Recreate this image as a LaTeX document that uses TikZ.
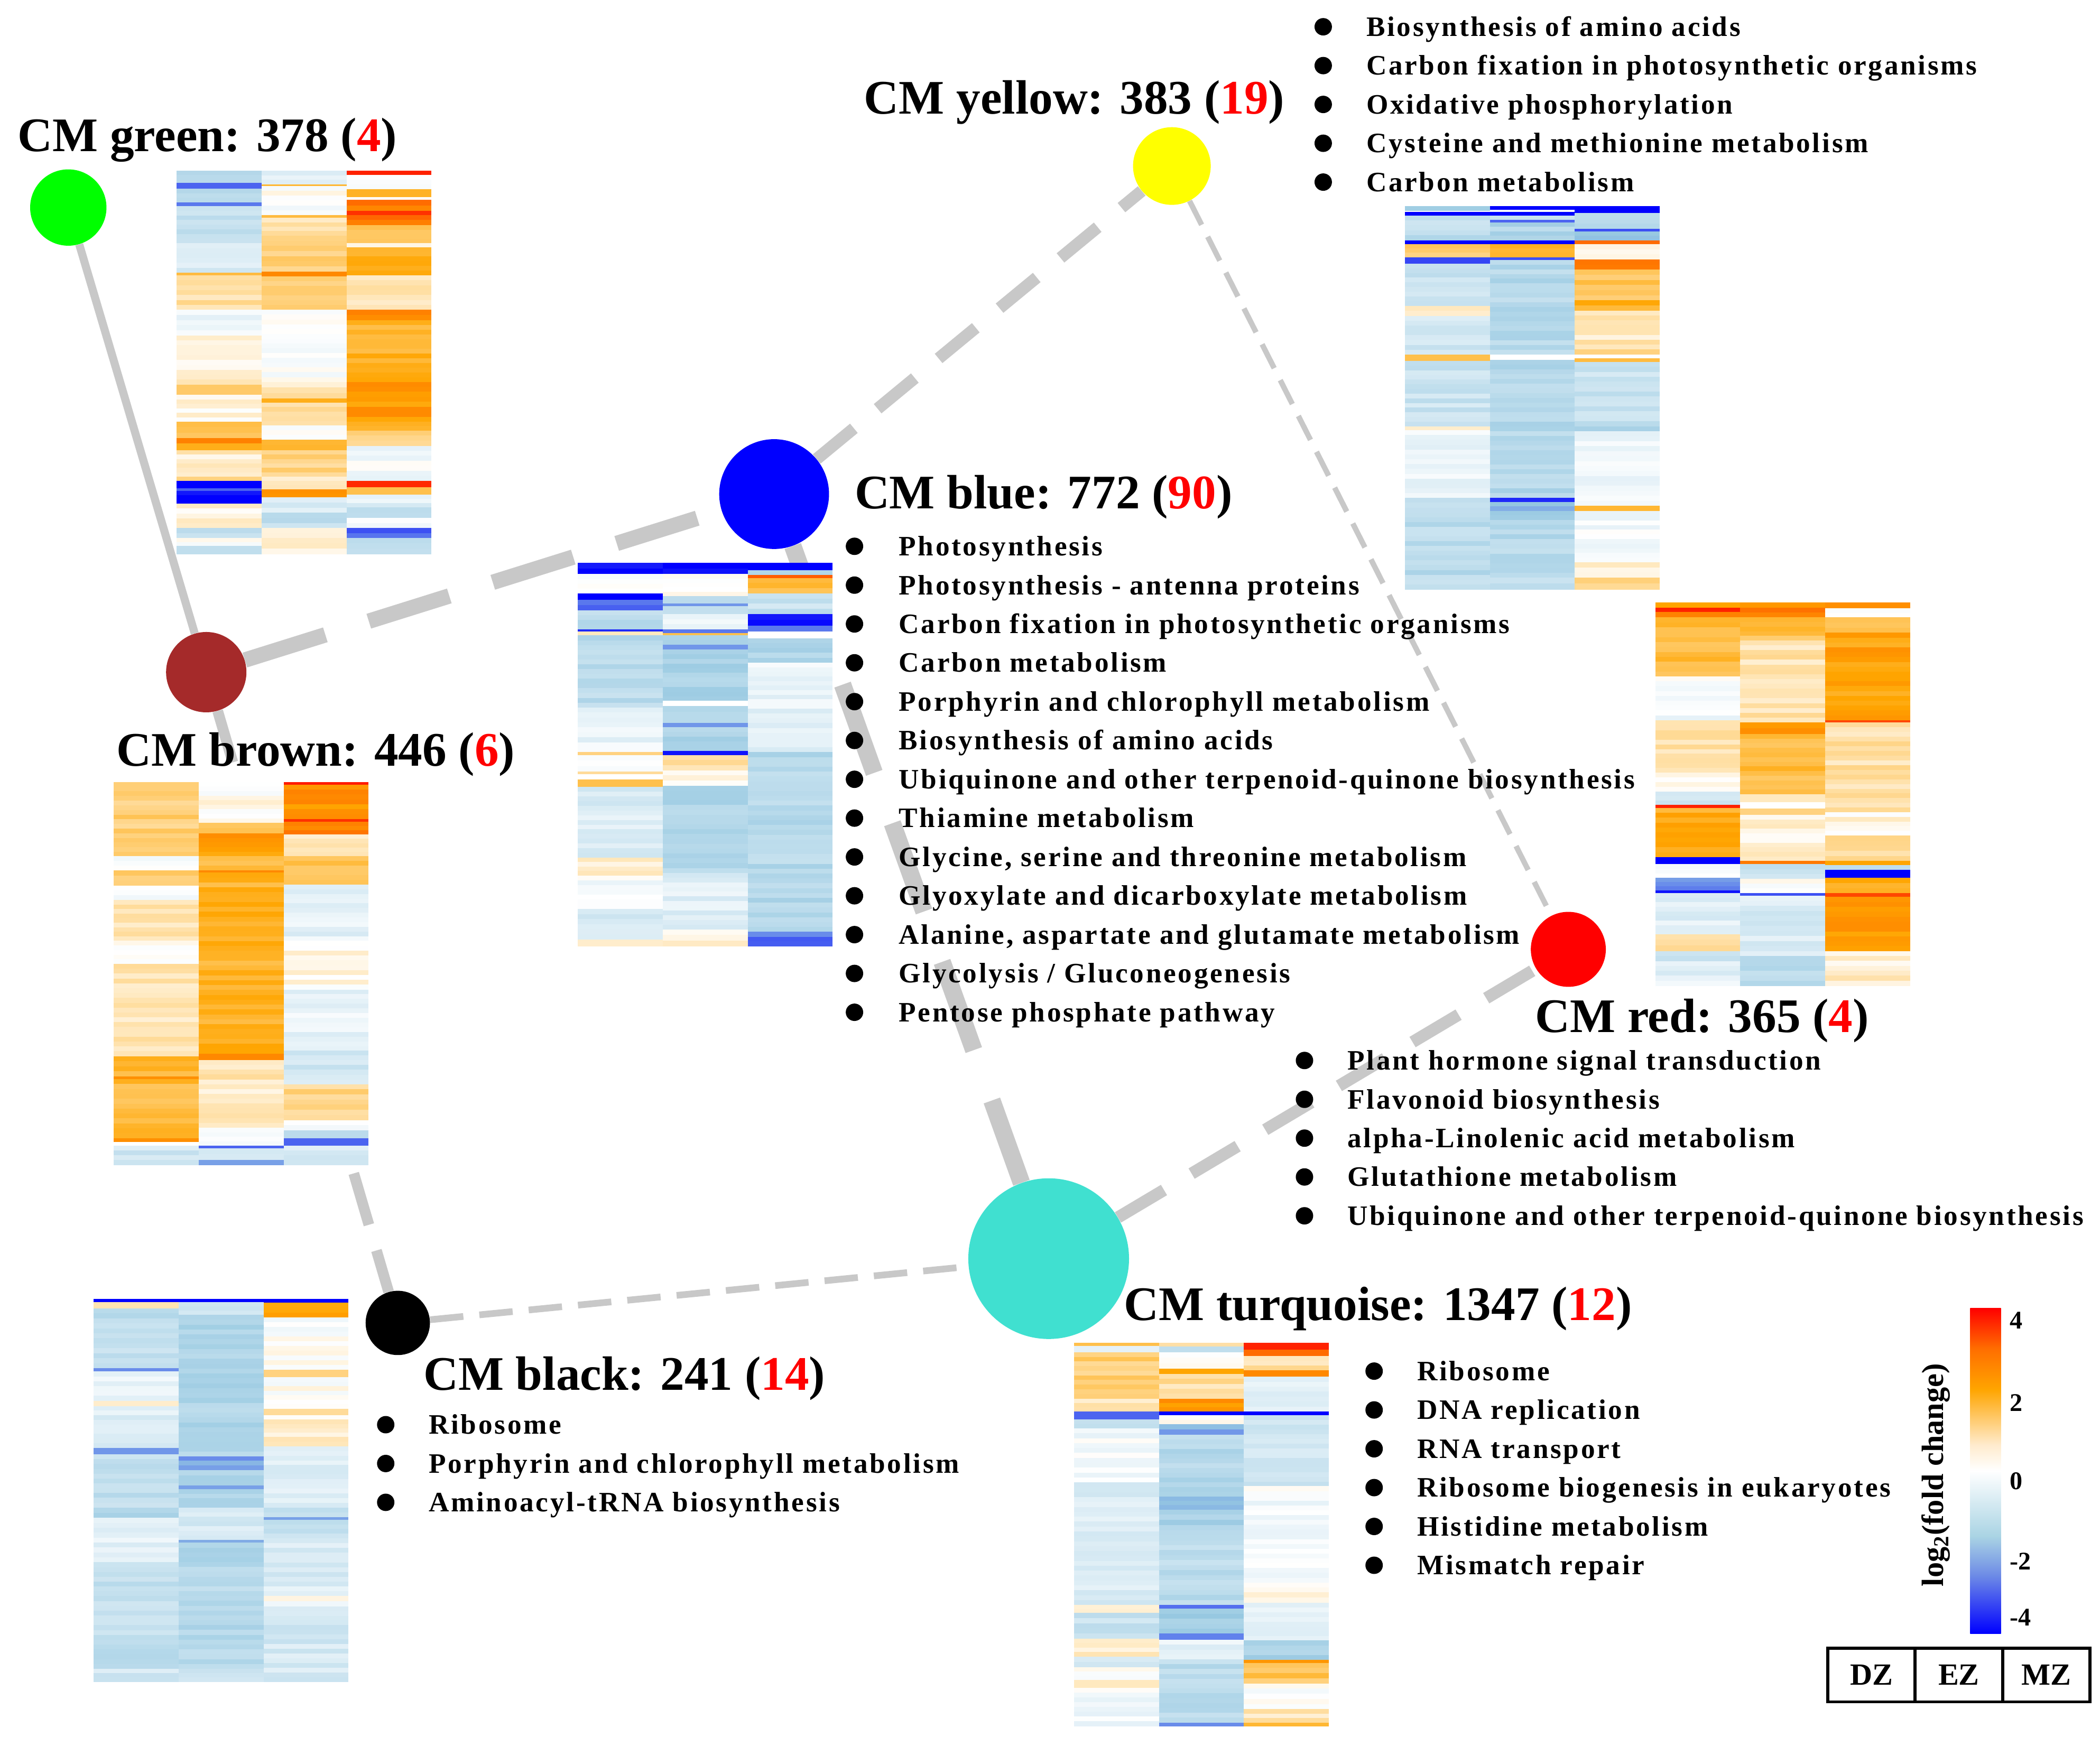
\documentclass[tikz,border=0pt]{standalone}
\usepackage{fontspec}
\setmainfont{Liberation Serif}
\newfontfamily\listfont[LetterSpace=7]{Liberation Serif}
\pgfdeclarelayer{bg}
\pgfsetlayers{bg,main}
\definecolor{hblue}{RGB}{0,0,255}
\definecolor{hlb}{RGB}{150,200,225}
\definecolor{horange}{RGB}{255,165,0}
\definecolor{hred}{RGB}{255,20,0}
\definecolor{edgegray}{RGB}{200,200,200}
\definecolor{cbA}{RGB}{110,140,230}
\definecolor{cbB}{RGB}{170,212,228}
\definecolor{cbC}{RGB}{255,235,205}
\definecolor{cbD}{RGB}{255,110,0}
\definecolor{cgreen}{RGB}{0,255,0}
\definecolor{cyellow}{RGB}{255,255,0}
\definecolor{cbrown}{RGB}{165,42,42}
\definecolor{cturq}{RGB}{64,224,208}
\pgfdeclareverticalshading{cbar}{100bp}{color(0bp)=(hblue); color(25bp)=(hblue); color(34bp)=(cbA); color(40bp)=(cbB); color(50bp)=(white); color(54bp)=(cbC); color(62.5bp)=(horange); color(68.75bp)=(cbD); color(75bp)=(red); color(100bp)=(red)}
\newcommand\hmset[1]{%
  \pgfmathsetmacro\hmv{#1}%
  \ifdim\hmv pt<-2pt
    \pgfmathsetmacro\hmp{min(100,(abs(\hmv)-2)*50)}\colorlet{hmtmp}{hblue!\hmp!hlb}%
  \else\ifdim\hmv pt<0pt
    \pgfmathsetmacro\hmp{abs(\hmv)*50}\colorlet{hmtmp}{hlb!\hmp!white}%
  \else\ifdim\hmv pt<2pt
    \pgfmathsetmacro\hmp{\hmv*50}\colorlet{hmtmp}{horange!\hmp!white}%
  \else
    \pgfmathsetmacro\hmp{min(100,(\hmv-2)*50)}\colorlet{hmtmp}{hred!\hmp!horange}%
  \fi\fi\fi}
\newcommand\hmcol[5]{%
  \foreach \hs/\he/\hv in {#5}{%
    \pgfmathsetmacro\segh{(\he-\hs)*(#4/100)}%
    \pgfmathtruncatemacro\nr{max(1,round(\segh/3.6))}%
    \ifdim\segh pt<6pt
      \hmset{\hv}%
      \fill[hmtmp] (#1,{#2+\hs*(#4/100)}) rectangle ({#1+#3},{#2+\he*(#4/100)+0.3});
    \else
      \foreach \hr in {1,...,\nr}{%
        \pgfmathsetmacro\ya{#2+(\hs+(\hr-1)*(\he-\hs)/\nr)*(#4/100)}%
        \pgfmathsetmacro\yb{#2+(\hs+\hr*(\he-\hs)/\nr)*(#4/100)}%
        \hmset{\hv+0.3*rand}%
        \fill[hmtmp] (#1,\ya) rectangle ({#1+#3},{\yb+0.3});
      }%
    \fi
  }}
\newcommand\heatmap[5]{%
  \hmcol{#1}{#2}{63.4}{286}{#3}%
  \hmcol{#1+63.4}{#2}{63.4}{286}{#4}%
  \hmcol{#1+126.8}{#2}{63.4}{286}{#5}}
\newcommand\blist[5]{% name, bullet x, text x, first baseline, items
  \foreach \itm [count=\k from 0] in {#5}{%
    \node[bul] (b#1\k) at (#2,{#4+29*\k-7}) {};
    \node[item] (t#1\k) at (#3,{#4+29*\k}) {\itm};
  }}
\begin{document}
\begin{tikzpicture}[x=1pt,y=-1pt,
  cnode/.style={circle,inner sep=0pt,draw=none},
  title/.style={anchor=base west,inner sep=0pt,font=\fontsize{36}{40}\selectfont\bfseries},
  item/.style={anchor=base west,inner sep=0pt,font=\listfont\fontsize{21}{23}\selectfont\bfseries},
  bul/.style={circle,fill=black,inner sep=0pt,minimum size=13pt},
  edge/.style={draw=edgegray,line cap=butt},
  cell/.style={draw=black,line width=2.2pt,minimum width=65.3pt,minimum height=40pt,inner sep=0pt,font=\fontsize{23}{24}\selectfont\bfseries},
  tick/.style={anchor=west,inner sep=0pt,font=\fontsize{19}{20}\selectfont\bfseries}]
\useasboundingbox (0,0) rectangle (1568,1297);
\pgfmathsetseed{7}
% module nodes
\node[cnode,fill=cgreen,minimum size=57pt] (ng) at (51,155) {};
\node[cnode,fill=cyellow,minimum size=58pt] (ny) at (875,124) {};
\node[cnode,fill=hblue,minimum size=82pt] (nb) at (578,369) {};
\node[cnode,fill=cbrown,minimum size=60pt] (nbr) at (154,502) {};
\node[cnode,fill=red,minimum size=56pt] (nr) at (1171,709) {};
\node[cnode,fill=cturq,minimum size=120pt] (nt) at (783,940) {};
\node[cnode,fill=black,minimum size=48pt] (nk) at (297,988) {};
% edges
\begin{pgfonlayer}{bg}
\fill[white] (0,0) rectangle (1568,1297);
\draw[edge,line width=6pt] (ng) -- (nbr);
\draw[edge,line width=11.5pt,dash pattern=on 63pt off 34pt] (nbr) -- (nb);
\draw[edge,line width=9pt,dash pattern=on 36pt off 23pt] (nb) -- (ny);
\draw[edge,line width=4pt,dash pattern=on 20pt off 10pt] (ny) -- (nr);
\draw[edge,line width=13pt,dash pattern=on 70pt off 40pt] (nb) -- (nt);
\draw[edge,line width=9pt,dash pattern=on 40pt off 24pt] (nt) -- (nr);
\draw[edge,line width=8pt,dash pattern=on 40pt off 20pt] (nbr) -- (nk);
\draw[edge,line width=5pt,dash pattern=on 25pt off 12pt] (nk) -- (nt);
\end{pgfonlayer}
% heatmaps
\heatmap{132}{127.6}%
{0/3.2/-1.4, 3.2/4.7/-3.0, 4.7/8.2/-1.3, 8.2/9.2/-2.8, 9.2/18.9/-1.2, 18.9/26.6/-0.7, 26.6/27.3/1.5, 27.3/36.3/0.7, 36.3/43/-0.4, 43/55.8/0.3, 55.8/58.5/1.2, 58.5/65.5/0.2, 65.5/69.8/1.3, 69.8/71.2/2.5, 71.2/72.9/1.8, 72.9/79.9/0.4, 79.9/80.9/1.0, 80.9/82.9/-4, 82.9/83.6/-3, 83.6/86.9/-4, 86.9/93.3/0.2, 93.3/95.9/-1, 95.9/98/0, 98/100/-1.2}%
{0/3.5/-0.4, 3.5/4/1.6, 4/11.5/0, 11.5/12.3/1.5, 12.3/16.9/0.5, 16.9/19.6/1.0, 19.6/26.3/1.1, 26.3/27.6/2.4, 27.6/36.3/1.2, 36.3/55.1/0, 55.1/59.5/0.6, 59.5/60.5/1.8, 60.5/66.5/0.6, 66.5/70.2/0.1, 70.2/72.9/1.8, 72.9/79.9/1.0, 79.9/83.2/0.6, 83.2/85.3/2.3, 85.3/89.3/-0.6, 89.3/93.3/-1.2, 93.3/95.9/0, 95.9/100/0.3}%
{0/1/3.8, 1/4.8/-0.2, 4.8/6.8/1.7, 6.8/7.5/0, 7.5/10.5/2.6, 10.5/11.5/3.6, 11.5/14.2/2.6, 14.2/18.9/1.2, 18.9/19.9/0.2, 19.9/27.3/1.8, 27.3/36.3/0.5, 36.3/39/2.2, 39/55.1/1.7, 55.1/65.5/2.1, 65.5/67.8/1.6, 67.8/71.8/0.8, 71.8/80.9/-0.2, 80.9/82.6/3.7, 82.6/84.6/1.4, 84.6/87.9/-0.5, 87.9/90.6/-1.3, 90.6/93.3/-0.3, 93.3/95.9/-3.0, 95.9/100/-1.0}
\heatmap{1049}{154}%
{0/1.2/-1.8, 1.2/1.5/0, 1.5/2.4/-4, 2.4/8.9/-1.2, 8.9/9.9/-4, 9.9/13.3/1.2, 13.3/15/-3.3, 15/26/-1.1, 26/28.7/0.3, 28.7/38.7/-0.9, 38.7/40.4/1.4, 40.4/57.5/-1.0, 57.5/58.5/0.4, 58.5/76.2/-0.4, 76.2/100/-1.3}%
{0/0.9/-4, 0.9/1.5/0, 1.5/2.4/-4, 2.4/3.6/-1.0, 3.6/4.2/-3, 4.2/8.9/-1.5, 8.9/9.9/-4, 9.9/13.3/1.6, 13.3/14/-3.2, 14/38.7/-1.4, 38.7/40.1/0, 40.1/76.2/-1.4, 76.2/77.2/-3.6, 77.2/81.9/-2.0, 81.9/97/-1.4, 97/100/-1.0}%
{0/1.7/-4, 1.7/5.9/-1.2, 5.9/6.6/-3.2, 6.6/8.9/-2.0, 8.9/9.9/2.8, 9.9/13.9/0.1, 13.9/16.6/2.6, 16.6/24.6/1.3, 24.6/27.3/1.7, 27.3/37.4/0.5, 37.4/38.7/1.0, 38.7/39.7/0, 39.7/40.7/1.5, 40.7/56.1/-1.0, 56.1/58.8/-1.5, 58.8/78.2/-0.3, 78.2/79.6/1.6, 79.6/93/-0.2, 93/94.3/0.5, 94.3/97/0, 97/100/0.8}
\heatmap{431.5}{420.5}%
{0/2.9/-4, 2.9/7.9/0, 7.9/9.6/-4, 9.6/12.3/-2.8, 12.3/17.3/-1.3, 17.3/17.9/-3.6, 17.9/18.9/0.5, 18.9/37.7/-1.3, 37.7/49.4/-0.4, 49.4/50.1/1.0, 50.1/54.5/0, 54.5/55.1/0.8, 55.1/56.5/0, 56.5/58.5/1.4, 58.5/76.9/-0.7, 76.9/81.6/0.5, 81.6/90.3/-0.2, 90.3/98.3/-0.7, 98.3/100/0.4}%
{0/2.9/-4, 2.9/8.6/-0.1, 8.6/10.6/-1.3, 10.6/11.2/-2.5, 11.2/13.3/-1.3, 13.3/17.3/-0.5, 17.3/18.3/-2.8, 18.3/18.9/1.4, 18.9/21.3/-1.6, 21.3/22.6/-2.5, 22.6/36/-1.6, 36/37.4/0, 37.4/41.8/-1.5, 41.8/42.8/-2.5, 42.8/49.1/-1.5, 49.1/50.1/-3.8, 50.1/54.1/0.6, 54.1/58.1/0.2, 58.1/80.9/-1.5, 80.9/95.7/-0.6, 95.7/100/0.2}%
{0/1.9/-4, 1.9/3.1/-1.5, 3.1/3.9/3.0, 3.9/7.9/1.6, 7.9/13.3/-1.0, 13.3/16.3/-4, 16.3/17.9/-2.8, 17.9/19.6/0, 19.6/26/-1.5, 26/38/-0.4, 38/49.4/-0.5, 49.4/96.3/-1.4, 96.3/97.6/-2.6, 97.6/100/-3.0}
\heatmap{1236}{450}%
{0/1.3/2.0, 1.3/2.4/3.8, 2.4/3.9/2.5, 3.9/19.3/1.5, 19.3/30.7/-0.2, 30.7/34.7/0.8, 34.7/43.1/0.6, 43.1/49.4/0.3, 49.4/52.8/-1.0, 52.8/53.6/3.8, 53.6/66.5/1.8, 66.5/68.3/-4, 68.3/71.9/0, 71.9/75.2/-2.5, 75.2/75.9/-3.8, 75.9/86.6/-0.6, 86.6/91/0.6, 91/93.6/-1.0, 93.6/100/-0.5}%
{0/3.9/2.4, 3.9/9.9/1.4, 9.9/31.3/0.6, 31.3/34.3/2.2, 34.3/50.1/1.5, 50.1/52.1/0.5, 52.1/53.8/0, 53.8/55.5/1.0, 55.5/67.5/0.3, 67.5/68.3/2.6, 68.3/72.2/-1.1, 72.2/75.9/0, 75.9/76.6/-3.2, 76.6/92.3/-0.7, 92.3/100/-1.3}%
{0/1.5/2.3, 1.5/3.9/0.2, 3.9/7.9/1.3, 7.9/30.7/2.0, 30.7/31.3/3.3, 31.3/54.8/0.7, 54.8/60.8/0.2, 60.8/67.5/0.8, 67.5/68.5/2.0, 68.5/69.8/-1.2, 69.8/71.9/-4, 71.9/75.9/1.8, 75.9/76.9/3.3, 76.9/91/2.1, 91/100/0.4}
\heatmap{85}{584}%
{0/13.4/1.1, 13.4/19.4/1.3, 19.4/23.1/0, 23.1/27.1/1.3, 27.1/30.8/-0.2, 30.8/41.5/0.6, 41.5/47.5/0.1, 47.5/71.6/0.6, 71.6/76.9/1.6, 76.9/77.6/2.3, 77.6/93/1.5, 93/94/2.3, 94/95/0, 95/100/-0.9}%
{0/10.7/0.1, 10.7/13.4/1.4, 13.4/19.4/2.1, 19.4/23.1/1.5, 23.1/23.7/2.4, 23.7/70.9/1.7, 70.9/72.6/2.4, 72.6/90.3/0.5, 90.3/95/-0.3, 95/95.7/-3.0, 95.7/98.7/-0.9, 98.7/100/-2.4}%
{0/0.7/3.9, 0.7/9.7/2.3, 9.7/10.4/3.6, 10.4/13.7/2.4, 13.7/19.4/0.4, 19.4/26.8/1.4, 26.8/41.5/-0.5, 41.5/54.2/0.2, 54.2/70.2/-0.4, 70.2/78.9/-0.9, 78.9/88.3/0.9, 88.3/91/0, 91/93/-1.3, 93/95/-3.0, 95/100/-0.8}
\heatmap{70}{970}%
{0/0.8/-4, 0.8/2.5/0.6, 2.5/18.1/-1.2, 18.1/19/-2.6, 19/26.6/-0.5, 26.6/28/0.4, 28/38.9/-0.6, 38.9/40.6/-2.5, 40.6/54.5/-1.2, 54.5/57.2/-1.6, 57.2/68.8/-0.5, 68.8/96.6/-1.2, 96.6/100/-0.8}%
{0/0.8/-4, 0.8/4.2/-1.0, 4.2/41.2/-1.5, 41.2/42.2/-2.6, 42.2/44.8/-2.3, 44.8/48.8/-1.6, 48.8/49.7/-2.4, 49.7/54.5/-1.6, 54.5/63/-0.8, 63/63.7/-2.3, 63.7/96.6/-1.4, 96.6/100/-1.0}%
{0/1/-4, 1/4.9/1.8, 4.9/18.5/0, 18.5/20.5/1.0, 20.5/28.7/0, 28.7/30.4/0.8, 30.4/36.1/0.3, 36.1/38.5/0.6, 38.5/54.5/-0.6, 54.5/57/-1.3, 57/57.7/-2.4, 57.7/61.3/-1.3, 61.3/77.6/-0.7, 77.6/80.3/0, 80.3/100/-0.8}
\heatmap{802}{1003}%
{0/0.7/1.4, 0.7/2.4/-0.5, 2.4/14.5/1.1, 14.5/17.9/0.5, 17.9/19.9/-3.0, 19.9/22.3/-1.2, 22.3/36.4/-0.2, 36.4/68.4/-0.7, 68.4/70.5/0.4, 70.5/77.2/-1.0, 77.2/81.9/0.5, 81.9/84.6/-0.9, 84.6/88/0, 88/90/0.5, 90/100/-0.2}%
{0/0.9/0.7, 0.9/2.4/-1.2, 2.4/6.7/0, 6.7/8.1/2.0, 8.1/14.5/0.7, 14.5/17.9/2.2, 17.9/18.9/-4, 18.9/21.2/0, 21.2/23.9/-2.3, 23.9/40.1/-1.4, 40.1/43.5/-2.3, 43.5/50.2/-1.6, 50.2/68.4/-1.3, 68.4/69.4/-2.9, 69.4/75.9/-1.7, 75.9/77.5/-2.7, 77.5/82.6/-0.4, 82.6/99.1/-1.3, 99.1/100/-2.6}%
{0/1.7/3.8, 1.7/3.4/2.8, 3.4/7.1/0.7, 7.1/8.8/2.4, 8.8/17.9/-0.5, 17.9/18.9/-4, 18.9/37.4/-0.9, 37.4/63.8/-0.2, 63.8/67.8/0.4, 67.8/77.7/-0.6, 77.7/82.8/-1.6, 82.8/83.5/2.2, 83.5/88.9/1.3, 88.9/95.6/0, 95.6/99.1/0.6, 99.1/100/1.6}
% titles
\node[title] (lg) at (13,113) {CM green: 378 (\textcolor{red}{4})};
\node[title] (ly) at (645,85) {CM yellow: 383 (\textcolor{red}{19})};
\node[title] (lb) at (638,380) {CM blue: 772 (\textcolor{red}{90})};
\node[title] (lbr) at (87,572) {CM brown: 446 (\textcolor{red}{6})};
\node[title] (lr) at (1146,771) {CM red: 365 (\textcolor{red}{4})};
\node[title] (lt) at (839,986) {CM turquoise: 1347 (\textcolor{red}{12})};
\node[title] (lk) at (316,1038) {CM black: 241 (\textcolor{red}{14})};
% lists
\blist{y}{988}{1020}{27}{Biosynthesis of amino acids, Carbon fixation in photosynthetic organisms, Oxidative phosphorylation, Cysteine and methionine metabolism, Carbon metabolism}
\blist{b}{638}{671}{415}{Photosynthesis, Photosynthesis - antenna proteins, Carbon fixation in photosynthetic organisms, Carbon metabolism, Porphyrin and chlorophyll metabolism, Biosynthesis of amino acids, Ubiquinone and other terpenoid-quinone biosynthesis, Thiamine metabolism, {Glycine, serine and threonine metabolism}, Glyoxylate and dicarboxylate metabolism, {Alanine, aspartate and glutamate metabolism}, {Glycolysis / Gluconeogenesis}, Pentose phosphate pathway}
\blist{r}{974}{1006}{799}{Plant hormone signal transduction, Flavonoid biosynthesis, alpha-Linolenic acid metabolism, Glutathione metabolism, Ubiquinone and other terpenoid-quinone biosynthesis}
\blist{t}{1026}{1058}{1031}{Ribosome, DNA replication, RNA transport, Ribosome biogenesis in eukaryotes, Histidine metabolism, Mismatch repair}
\blist{k}{288}{320}{1071}{Ribosome, Porphyrin and chlorophyll metabolism, Aminoacyl-tRNA biosynthesis}
% colour bar
\shade[shading=cbar] (1471,977) rectangle (1494,1220);
\node[rotate=90,inner sep=0pt,font=\fontsize{23}{24}\selectfont\bfseries] (cblab) at (1445.6,1101.6) {log\textsubscript{2}(fold change)};
\node[tick] (c4) at (1500.5,986) {4};
\node[tick] (c2) at (1500.5,1047.5) {2};
\node[tick] (c0) at (1500.5,1106) {0};
\node[tick] (cm2) at (1500.5,1166) {-2};
\node[tick] (cm4) at (1500.5,1208) {-4};
\node[cell] (dz) at (1397.3,1251) {DZ};
\node[cell] (ez) at (1462.6,1251) {EZ};
\node[cell] (mz) at (1527.9,1251) {MZ};
\end{tikzpicture}
\end{document}
